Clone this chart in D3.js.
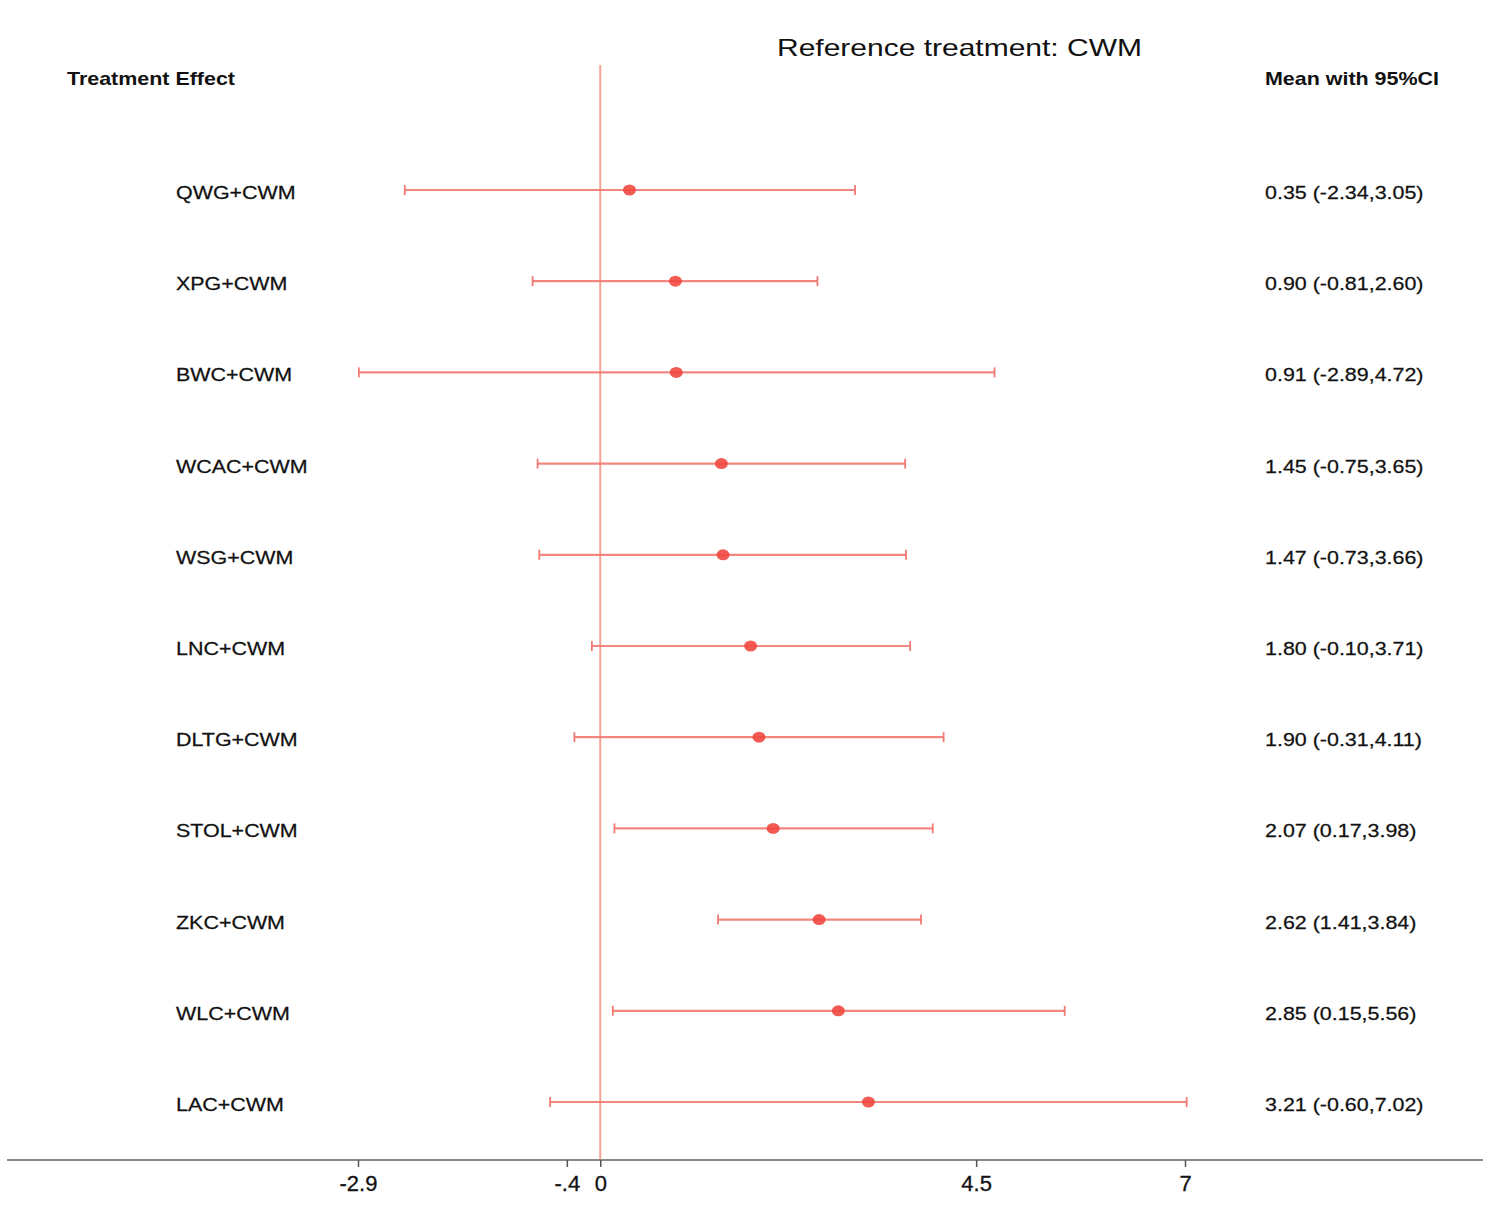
<!DOCTYPE html>
<html>
<head>
<meta charset="utf-8">
<script src="https://cdn.jsdelivr.net/npm/d3@7"></script>
<style>
  html, body { margin: 0; padding: 0; background: #fff; }
  text { font-family: "Liberation Sans", Arial, Helvetica, sans-serif; fill: #111; }
</style>
</head>
<body>
<svg id="chart" width="1490" height="1214"></svg>
<script>
const treatments = ["QWG+CWM","XPG+CWM","BWC+CWM","WCAC+CWM","WSG+CWM","LNC+CWM","DLTG+CWM","STOL+CWM","ZKC+CWM","WLC+CWM","LAC+CWM"];
const means = [0.35, 0.90, 0.91, 1.45, 1.47, 1.80, 1.90, 2.07, 2.62, 2.85, 3.21];
const lowers = [-2.34, -0.81, -2.89, -0.75, -0.73, -0.10, -0.31, 0.17, 1.41, 0.15, -0.60];
const uppers = [3.05, 2.60, 4.72, 3.65, 3.66, 3.71, 4.11, 3.98, 3.84, 5.56, 7.02];
const tickValues = [-2.9, -0.4, 0, 4.5, 7];
const tickLabels = ["-2.9", "-.4", "0", "4.5", "7"];
const titleText = "Reference treatment: CWM";
const leftHeader = "Treatment Effect";
const rightHeader = "Mean with 95%CI";

const rows = treatments.map((t, i) => ({ t, m: means[i], lo: lowers[i], hi: uppers[i] }));

const svg = d3.select("#chart");
const x = d3.scaleLinear().domain([-2.9, 7]).range([358, 1185]);
const y = d3.scalePoint().domain(treatments).range([190, 1102]);

const lineColor = "#f27a72";
const dotColor = "#f0443c";
const stretch = 1.16;

// title & headers
svg.append("text").attr("transform", "translate(777,56) scale(1.25,1)")
  .attr("font-size", 24).text(titleText);
svg.append("text").attr("transform", "translate(67,85) scale(" + stretch + ",1)")
  .attr("font-size", 18.5).attr("font-weight", "bold").text(leftHeader);
svg.append("text").attr("transform", "translate(1265,85) scale(" + stretch + ",1)")
  .attr("font-size", 18.5).attr("font-weight", "bold").text(rightHeader);

// zero reference line
svg.append("line")
  .attr("x1", x(0)).attr("x2", x(0)).attr("y1", 65).attr("y2", 1160)
  .attr("stroke", "#f7a494").attr("stroke-width", 2);

// axis
const axisY = 1160;
svg.append("line").attr("x1", 7).attr("x2", 1483).attr("y1", axisY).attr("y2", axisY)
  .attr("stroke", "#8a8a8a").attr("stroke-width", 2.2);
const axis = d3.axisBottom(x).tickValues(tickValues)
  .tickFormat((d, i) => tickLabels[i]).tickSize(7).tickPadding(8);
const ag = svg.append("g").attr("transform", `translate(0,${axisY})`).call(axis);
ag.select(".domain").remove();
ag.selectAll(".tick line").attr("stroke", "#555").attr("stroke-width", 1.5);
ag.selectAll(".tick text").attr("font-size", 22).attr("fill", "#111")
  .attr("stroke", "#111").attr("stroke-width", 0.3)
  .attr("font-family", '"Liberation Sans", Arial, sans-serif');

// rows
const g = svg.append("g");
const row = g.selectAll("g.row").data(rows).join("g").attr("class", "row");

row.append("line")
  .attr("x1", d => x(d.lo)).attr("x2", d => x(d.hi))
  .attr("y1", d => y(d.t)).attr("y2", d => y(d.t))
  .attr("stroke", lineColor).attr("stroke-width", 2.2).attr("stroke-opacity", 0.9);
row.append("line")
  .attr("x1", d => x(d.lo)).attr("x2", d => x(d.lo))
  .attr("y1", d => y(d.t) - 5).attr("y2", d => y(d.t) + 5)
  .attr("stroke", lineColor).attr("stroke-width", 1.8);
row.append("line")
  .attr("x1", d => x(d.hi)).attr("x2", d => x(d.hi))
  .attr("y1", d => y(d.t) - 5).attr("y2", d => y(d.t) + 5)
  .attr("stroke", lineColor).attr("stroke-width", 1.8);
row.append("ellipse")
  .attr("cx", d => x(d.m)).attr("cy", d => y(d.t))
  .attr("rx", 6.5).attr("ry", 5.5)
  .attr("fill", dotColor).attr("fill-opacity", 0.88);

row.append("text")
  .attr("transform", d => `translate(176,${y(d.t) + 9}) scale(${stretch},1)`)
  .attr("font-size", 18.5).attr("stroke", "#111").attr("stroke-width", 0.25)
  .text(d => d.t);
row.append("text")
  .attr("transform", d => `translate(1265,${y(d.t) + 9}) scale(${stretch},1)`)
  .attr("font-size", 18.5).attr("stroke", "#111").attr("stroke-width", 0.25)
  .text(d => `${d.m.toFixed(2)} (${d.lo.toFixed(2)},${d.hi.toFixed(2)})`);
</script>
</body>
</html>
